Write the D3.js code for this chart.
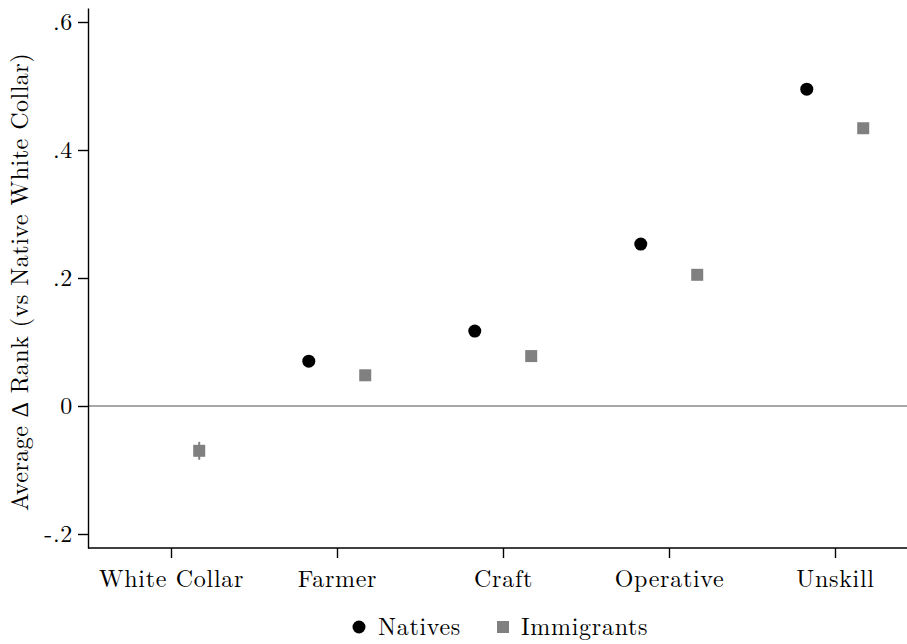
<!DOCTYPE html>
<html lang="en">

<head>
  <meta charset="UTF-8">
  <title>Average rank by occupation</title>
  <script src="https://d3js.org/d3.v7.min.js"></script>
  <style>
    body { margin: 0; background: #fff; }
    text {
      font-family: "Latin Modern Roman", "CMU Serif", "Liberation Serif", serif;
      font-size: 24px;
      letter-spacing: 0.7px;
      fill: #000;
    }
    .axis path, .axis line { stroke: #000; stroke-width: 1.4px; }
  </style>
</head>

<body>
  <svg width="907" height="644"></svg>
  <script>
    // occupations on the x axis
    const categories = ["White Collar", "Farmer", "Craft", "Operative", "Unskill"];
    // natives (no white collar point: it is the reference group)
    const nativeVals = [null, 0.070, 0.117, 0.253, 0.495];
    const nativeLo = [null, 0.066, 0.113, 0.249, 0.491];
    const nativeHi = [null, 0.074, 0.121, 0.257, 0.499];
    // immigrants
    const immigVals = [-0.070, 0.048, 0.078, 0.205, 0.434];
    const immigLo = [-0.084, 0.043, 0.073, 0.200, 0.428];
    const immigHi = [-0.056, 0.053, 0.083, 0.210, 0.440];
    const yTicks = [-0.2, 0, 0.2, 0.4, 0.6];
    const yTickLabels = ["-.2", "0", ".2", ".4", ".6"];

    const svg = d3.select("svg");

    const x = d3.scaleLinear().domain([0.5, 5.5]).range([88, 918]);
    const y = d3.scaleLinear().domain([-0.221875, 0.621875]).range([548, 8]);
    const off = 0.17;

    // zero reference line
    svg.append("line")
      .attr("x1", 88).attr("x2", 907)
      .attr("y1", y(0)).attr("y2", y(0))
      .attr("stroke", "#8a8a8a").attr("stroke-width", 1.5);

    // y axis
    const yAxis = svg.append("g").attr("class", "axis")
      .attr("transform", "translate(88,0)")
      .call(d3.axisLeft(y).tickValues(yTicks)
        .tickFormat((d, i) => yTickLabels[i]).tickSize(10).tickSizeOuter(0).tickPadding(5));
    yAxis.selectAll("text").style("font-size", "24px");

    // x axis
    const xAxis = svg.append("g").attr("class", "axis")
      .attr("transform", "translate(0,548)")
      .call(d3.axisBottom(x).tickValues(d3.range(1, 6))
        .tickFormat(d => categories[d - 1]).tickSize(10).tickSizeOuter(0).tickPadding(12));
    xAxis.selectAll("text").style("font-size", "24px");
    xAxis.select(".domain").attr("d", "M88,0H907");

    // y axis title
    svg.append("text")
      .attr("transform", "translate(28,282) rotate(-90)")
      .attr("text-anchor", "middle")
      .style("letter-spacing", "0.5px")
      .text("Average \u2206 Rank (vs Native White Collar)");

    const natives = categories.map((c, i) => ({ i, v: nativeVals[i], lo: nativeLo[i], hi: nativeHi[i] }))
      .filter(d => d.v !== null);
    const immig = categories.map((c, i) => ({ i, v: immigVals[i], lo: immigLo[i], hi: immigHi[i] }));

    // confidence intervals
    svg.selectAll(".ci-n").data(natives).enter().append("line")
      .attr("x1", d => x(d.i + 1 - off)).attr("x2", d => x(d.i + 1 - off))
      .attr("y1", d => y(d.lo)).attr("y2", d => y(d.hi))
      .attr("stroke", "#000").attr("stroke-width", 1.5);
    svg.selectAll(".ci-i").data(immig).enter().append("line")
      .attr("x1", d => x(d.i + 1 + off)).attr("x2", d => x(d.i + 1 + off))
      .attr("y1", d => y(d.lo)).attr("y2", d => y(d.hi))
      .attr("stroke", "#808080").attr("stroke-width", 2);

    // points
    svg.selectAll(".pt-n").data(natives).enter().append("circle")
      .attr("cx", d => x(d.i + 1 - off)).attr("cy", d => y(d.v))
      .attr("r", 6.5).attr("fill", "#000");
    svg.selectAll(".pt-i").data(immig).enter().append("rect")
      .attr("x", d => x(d.i + 1 + off) - 6).attr("y", d => y(d.v) - 6)
      .attr("width", 12).attr("height", 12).attr("fill", "#808080");

    // legend
    const leg = svg.append("g");
    leg.append("circle").attr("cx", 359).attr("cy", 627).attr("r", 6.5).attr("fill", "#000");
    leg.append("text").attr("x", 378).attr("y", 635).text("Natives");
    leg.append("rect").attr("x", 497).attr("y", 621).attr("width", 12).attr("height", 12).attr("fill", "#808080");
    leg.append("text").attr("x", 521).attr("y", 635).text("Immigrants");
  </script>
</body>

</html>
